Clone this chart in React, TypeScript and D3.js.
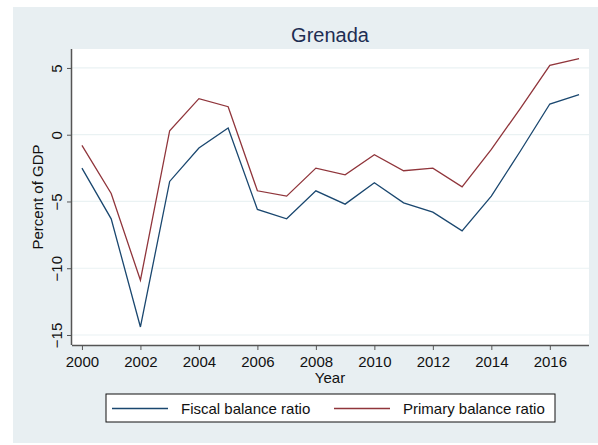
import React, { useEffect, useRef } from 'react';
import * as d3 from 'd3';

// Grenada fiscal data, percent of GDP
const years = [2000, 2001, 2002, 2003, 2004, 2005, 2006, 2007, 2008, 2009, 2010, 2011, 2012, 2013, 2014, 2015, 2016, 2017];
const fiscalBalance = [-2.5, -6.3, -14.4, -3.5, -1.0, 0.5, -5.6, -6.3, -4.2, -5.2, -3.6, -5.1, -5.8, -7.2, -4.6, -1.2, 2.3, 3.0];
const primaryBalance = [-0.8, -4.4, -10.9, 0.3, 2.7, 2.1, -4.2, -4.6, -2.5, -3.0, -1.5, -2.7, -2.5, -3.9, -1.1, 2.0, 5.2, 5.7];
const xTicks = [2000, 2002, 2004, 2006, 2008, 2010, 2012, 2014, 2016];
const yTicks = [-15, -10, -5, 0, 5];

const W = 598, H = 445;
const FONT = 'Arial, "Liberation Sans", Helvetica, sans-serif';

export default function App() {
    const ref = useRef<SVGSVGElement>(null);

    useEffect(() => {
        const svg = d3.select(ref.current);
        svg.selectAll('*').remove();

        //plot region
        const plot = { left: 72, top: 49, right: 589, bottom: 345 };

        const x = d3.scaleLinear().domain([1999.66, 2017.34]).range([plot.left, plot.right]);
        const y = d3.scaleLinear().domain([-15.75, 6.42]).range([plot.bottom, plot.top]);

        //outer background
        svg.append('rect').attr('x', 13).attr('y', 7).attr('width', W - 13).attr('height', 436).attr('fill', '#e8eff2');
        svg.append('rect').attr('x', plot.left).attr('y', plot.top)
            .attr('width', plot.right - plot.left).attr('height', plot.bottom - plot.top).attr('fill', '#ffffff');

        //grid
        svg.append('g').selectAll('line').data(yTicks).enter().append('line')
            .attr('x1', plot.left).attr('x2', plot.right)
            .attr('y1', d => y(d)).attr('y2', d => y(d))
            .attr('stroke', '#eaf2f3').attr('stroke-width', 1.2);

        //lines
        const line = d3.line<number>().x((_, i) => x(years[i])).y(d => y(d));
        svg.append('path').datum(fiscalBalance).attr('d', line)
            .attr('fill', 'none').attr('stroke', '#1a476f').attr('stroke-width', 1.3);
        svg.append('path').datum(primaryBalance).attr('d', line)
            .attr('fill', 'none').attr('stroke', '#90353b').attr('stroke-width', 1.3);

        //x axis
        const xAxis = svg.append('g').attr('transform', `translate(0,${plot.bottom})`)
            .call(d3.axisBottom(x).tickValues(xTicks).tickFormat(d3.format('d')).tickSize(5).tickSizeOuter(0));
        xAxis.select('.domain').attr('d', `M${plot.left},0.5H${plot.right}`).attr('stroke', '#555').attr('stroke-width', 1.5);
        xAxis.selectAll('line').attr('stroke', '#555');
        xAxis.selectAll('text').attr('font-family', FONT).attr('font-size', 15).attr('fill', '#111').attr('dy', '0.93em');

        //y axis
        const yAxis = svg.append('g').attr('transform', `translate(${plot.left},0)`)
            .call(d3.axisLeft(y).tickValues(yTicks).tickSize(5).tickSizeOuter(0));
        yAxis.select('.domain').attr('d', `M-0.5,${plot.top}V${plot.bottom}`).attr('stroke', '#555').attr('stroke-width', 1.5);
        yAxis.selectAll('line').attr('stroke', '#555');
        yAxis.selectAll('text')
            .attr('font-family', FONT).attr('font-size', 15).attr('fill', '#111')
            .attr('x', 0).attr('dy', 0)
            .attr('text-anchor', 'middle')
            .attr('transform', 'translate(-10,0) rotate(-90)');

        //titles
        svg.append('text').attr('x', 330).attr('y', 42).attr('text-anchor', 'middle')
            .attr('font-family', FONT).attr('font-size', 20).attr('fill', '#1e2d53').text('Grenada');
        svg.append('text').attr('x', 330).attr('y', 383).attr('text-anchor', 'middle')
            .attr('font-family', FONT).attr('font-size', 15).attr('fill', '#111').text('Year');
        svg.append('text').attr('transform', `translate(43,${(plot.top + plot.bottom) / 2}) rotate(-90)`)
            .attr('text-anchor', 'middle')
            .attr('font-family', FONT).attr('font-size', 15).attr('fill', '#111').text('Percent of GDP');

        //legend
        const lg = svg.append('g');
        lg.append('rect').attr('x', 106).attr('y', 394).attr('width', 449).attr('height', 28)
            .attr('fill', '#fff').attr('stroke', '#111').attr('stroke-width', 1);
        const items = [
            { label: 'Fiscal balance ratio', color: '#1a476f', x0: 112 },
            { label: 'Primary balance ratio', color: '#90353b', x0: 334 },
        ];
        items.forEach(it => {
            lg.append('line').attr('x1', it.x0).attr('x2', it.x0 + 56).attr('y1', 408.5).attr('y2', 408.5)
                .attr('stroke', it.color).attr('stroke-width', 1.3);
            lg.append('text').attr('x', it.x0 + 69).attr('y', 413.5)
                .attr('font-family', FONT).attr('font-size', 15).attr('fill', '#111').text(it.label);
        });
    }, []);

    return (
        <div style={{ position: 'absolute', left: 0, top: 0 }}>
            <svg ref={ref} width={W} height={H} style={{ display: 'block' }} />
        </div>
    );
}
